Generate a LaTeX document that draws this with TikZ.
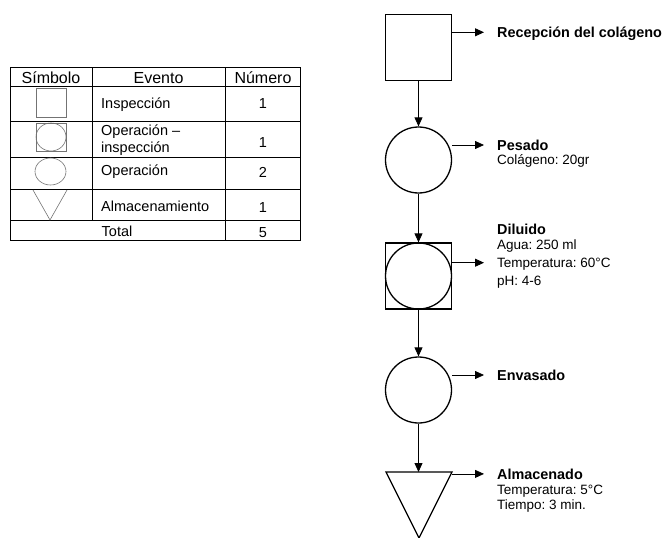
\documentclass[tikz,border=0pt]{standalone}
\usepackage{fontspec}
\setmainfont{Liberation Sans}
\usetikzlibrary{arrows.meta}
\usetikzlibrary{positioning}
\frenchspacing

\tikzset{
  forma/.style={draw, line width=1.3pt, inner sep=0pt},
  cuadro/.style={forma, rectangle, minimum size=66pt},
  circulo/.style={forma, circle, minimum size=66pt},
  flujo/.style={line width=0.8pt, -{Triangle[length=9pt,width=8pt]}},
  titulo/.style={anchor=west, inner sep=0pt, text height=10.3pt, text depth=0pt,
    font=\fontsize{14.4}{16}\selectfont\bfseries},
  dato/.style={inner sep=0pt, text height=9.7pt, text depth=0pt,
    font=\fontsize{13.5}{16}\selectfont},
  simbolo/.style={draw=black!55, line width=0.6pt},
  encabezado/.style={anchor=base, inner sep=0pt, font=\fontsize{16}{19}\selectfont},
  celda/.style={anchor=base west, inner sep=0pt, align=left,
    font=\fontsize{14.5}{16.5}\selectfont},
  cifra/.style={anchor=base, inner sep=0pt, font=\fontsize{14.5}{16.5}\selectfont},
}

\begin{document}
\begin{tikzpicture}[x=1pt, y=-1pt]
\useasboundingbox (0,0) rectangle (665,538);

% Tabla de simbolos
\draw[line width=0.8pt] (10,67) rectangle (300,240);
\foreach \y in {86,121,157,189,220}
  \draw[line width=0.8pt] (10,\y) -- (300,\y);
\draw[line width=0.8pt] (92,67) -- (92,220);
\draw[line width=0.8pt] (225,67) -- (225,240);

\node[encabezado] (h1) at (51,83) {Símbolo};
\node[encabezado] (h2) at (158.5,83) {Evento};
\node[encabezado] (h3) at (263,83) {Número};

\draw[simbolo] (36,88) rectangle (66,117);
\draw[simbolo] (36,123) rectangle (66,151);
\draw[simbolo] (51,137) ellipse (15 and 14);
\draw[simbolo] (50.5,171.5) ellipse (15.5 and 13.5);
\draw[simbolo] (33,190) -- (50,220) -- (67,190);

\node[celda] (e1) at (101,108) {Inspección};
\node[celda] (e2) at (101,152) {Operación –\\inspección};
\node[celda] (e3) at (101,175) {Operación};
\node[celda] (e4) at (101,211) {Almacenamiento};
\node[cifra] (n1) at (263,108) {1};
\node[cifra] (n2) at (263,147) {1};
\node[cifra] (n3) at (263,177) {2};
\node[cifra] (n4) at (263,212) {1};
\node[cifra] (tot) at (117,236) {Total};
\node[cifra] (n5) at (263,237) {5};

% Diagrama de proceso
\node[cuadro] (s1) at (418.5,47.5) {};
\node[circulo] (c2) at (418.5,160) {};
\node[cuadro] (s3) at (418.5,276) {};
\node[circulo] (s3c) at (s3) {};
\node[circulo] (c4) at (418.5,390) {};
\coordinate (a5) at (418.5,472);
\coordinate (a5d) at (452,472);
\draw[line width=1.3pt, line join=miter] (386,472) -- (a5d) -- (419,538) -- cycle;

\draw[flujo] (s1) -- (c2);
\draw[flujo] (c2) -- (s3);
\draw[flujo] (s3) -- (c4);
\draw[flujo] (c4) -- (a5);

% Etiquetas
\node[titulo] (t1) at (497,32.3) {Recepción del colágeno};
\node[titulo] (t2) at (497,145) {Pesado};
\node[dato, below right=4pt and 0pt of t2.south west] (d2) {Colágeno: 20gr};
\node[titulo] (t3) at (497,228.9) {Diluido};
\node[dato, below right=5.3pt and 0pt of t3.south west] (d3a) {Agua: 250 ml};
\node[dato, below right=8pt and 0pt of d3a.south west] (d3b) {Temperatura: 60°C};
\node[dato, below right=8pt and 0pt of d3b.south west] (d3c) {pH: 4-6};
\node[titulo] (t4) at (497,375) {Envasado};
\node[titulo] (t5) at (497,473.9) {Almacenado};
\node[dato, below right=5.3pt and 0pt of t5.south west] (d5a) {Temperatura: 5°C};
\node[dato, below right=5.3pt and 0pt of d5a.south west] (d5b) {Tiempo: 3 min.};

\draw[flujo] (s1.east |- t1.west) -- ([xshift=-13pt]t1.west);
\draw[flujo] (c2.east |- t2.west) -- ([xshift=-13pt]t2.west);
\draw[flujo] (s3.east |- d3b.west) -- ([xshift=-13pt]d3b.west);
\draw[flujo] (c4.east |- t4.west) -- ([xshift=-13pt]t4.west);
\draw[flujo] (a5d |- t5.west) -- ([xshift=-13pt]t5.west);

\end{tikzpicture}
\end{document}
